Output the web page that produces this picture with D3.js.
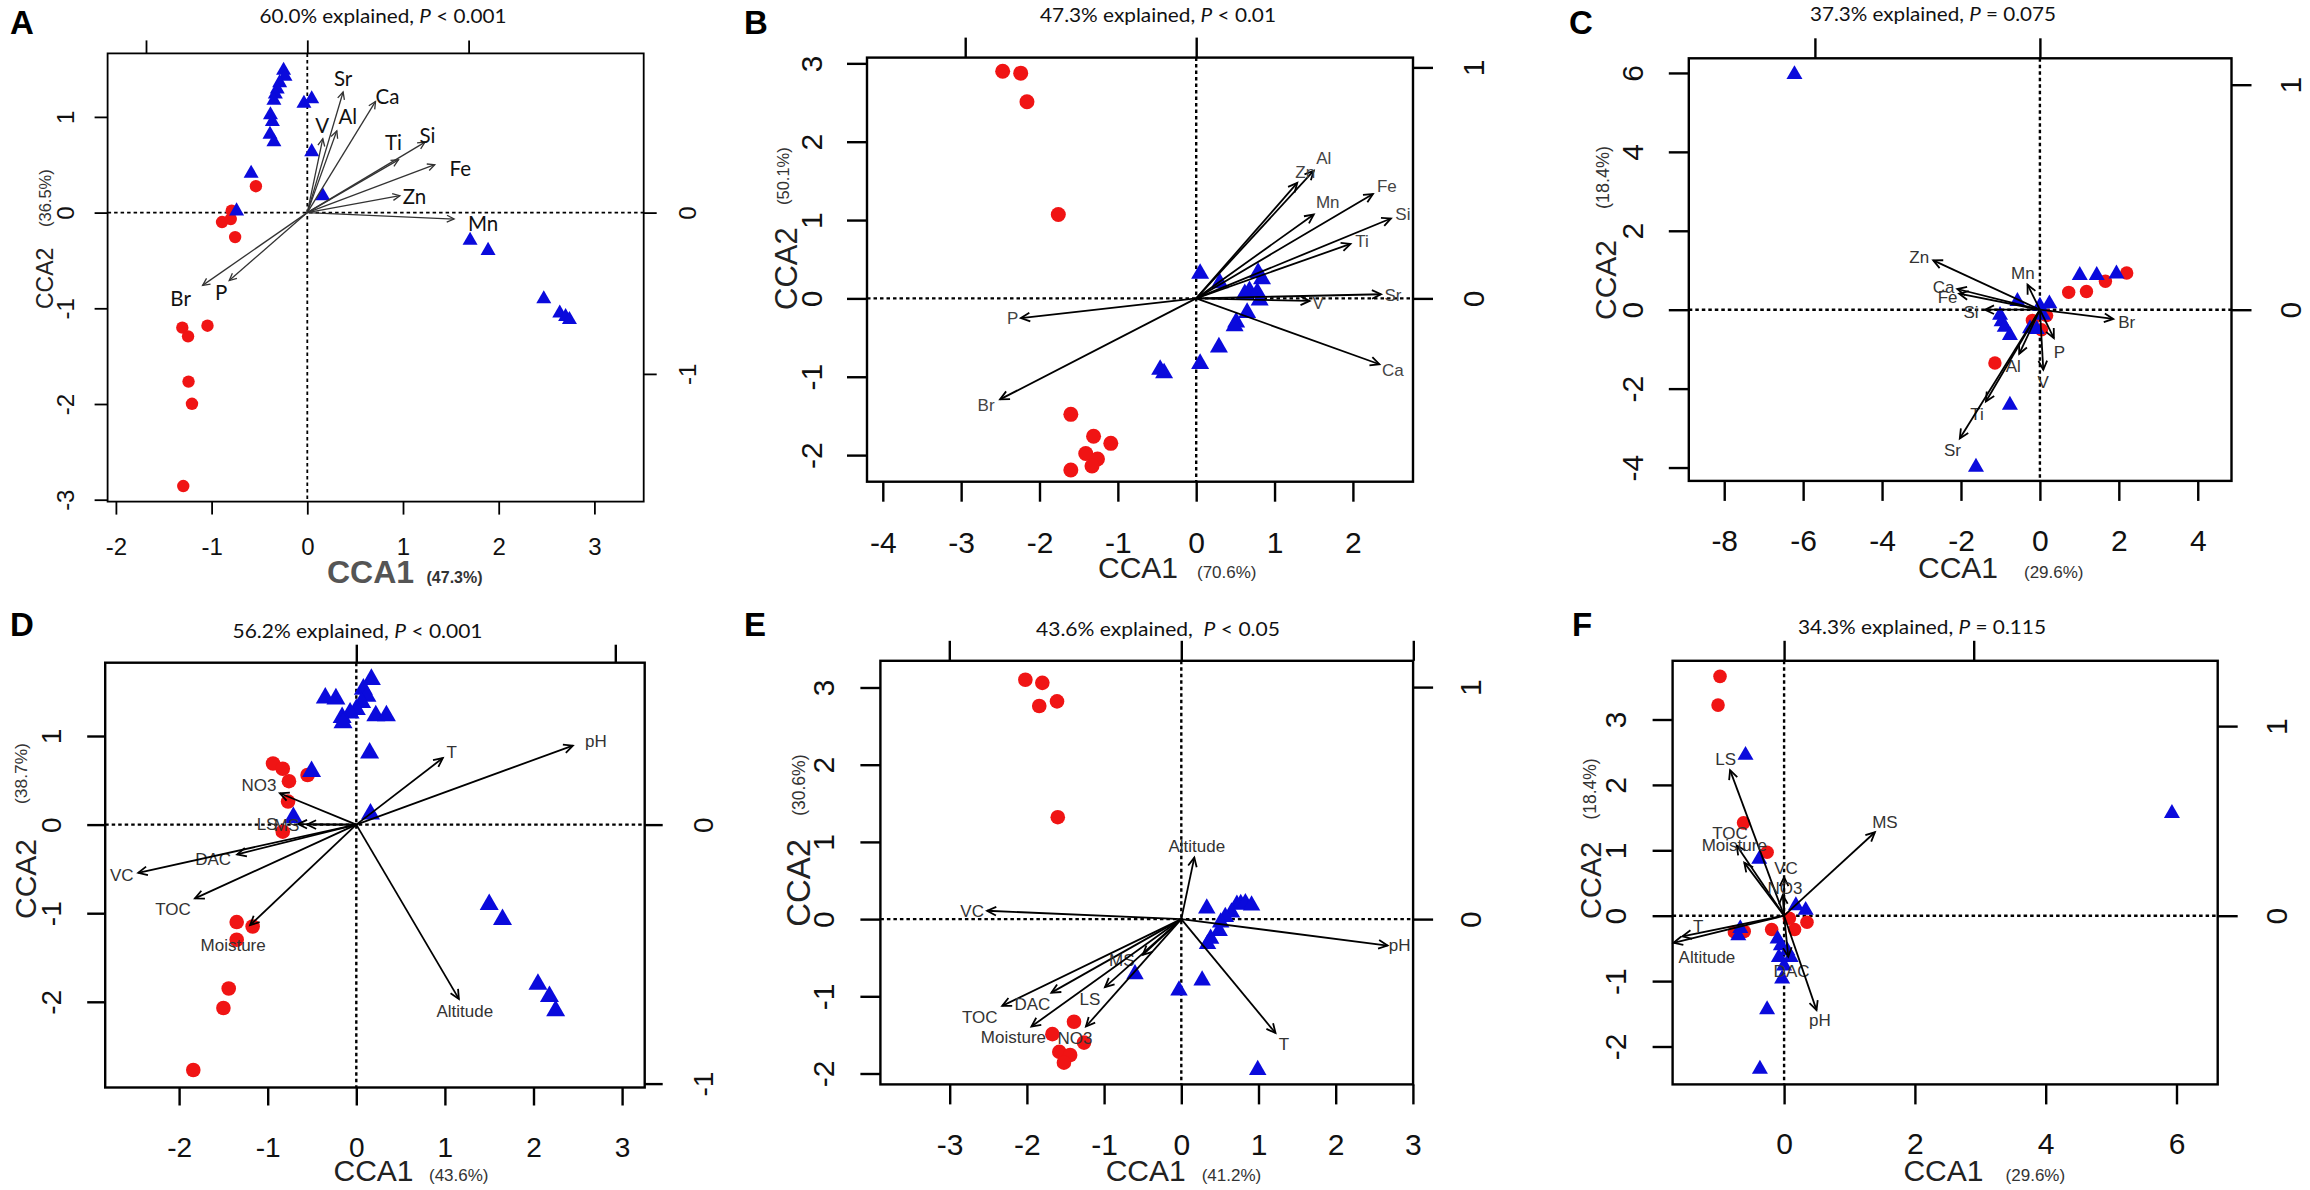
<!DOCTYPE html>
<html>
<head>
<meta charset="utf-8">
<script src="https://cdn.jsdelivr.net/npm/d3@7"></script>
<style>
  body { margin: 0; background: #fff; }
  svg { display: block; }
</style>
</head>
<body>
<svg id="fig" width="2310" height="1190"></svg>
<script>
// ---------- data ----------
const panelLetters = ["A", "B", "C", "D", "E", "F"];
const titles = [
  ["60.0% explained, ", "P", " < 0.001"],
  ["47.3% explained, ", "P", " < 0.01"],
  ["37.3% explained, ", "P", " = 0.075"],
  ["56.2% explained, ", "P", " < 0.001"],
  ["43.6% explained,  ", "P", " < 0.05"],
  ["34.3% explained, ", "P", " = 0.115"]
];
const xPct = ["(47.3%)", "(70.6%)", "(29.6%)", "(43.6%)", "(41.2%)", "(29.6%)"];
const yPct = ["(36.5%)", "(50.1%)", "(18.4%)", "(38.7%)", "(30.6%)", "(18.4%)"];

const xTicks = [[-2, -1, 0, 1, 2, 3], [-4, -3, -2, -1, 0, 1, 2], [-8, -6, -4, -2, 0, 2, 4],
                [-2, -1, 0, 1, 2, 3], [-3, -2, -1, 0, 1, 2, 3], [0, 2, 4, 6]];
const yTicks = [[-3, -2, -1, 0, 1], [-2, -1, 0, 1, 2, 3], [-4, -2, 0, 2, 4, 6],
                [-2, -1, 0, 1], [-2, -1, 0, 1, 2, 3], [-2, -1, 0, 1, 2, 3]];
const topTicks = [[-1, 0, 1], [-1, 0], [-1, 0], [0, 1], [-1, 0, 1], [0, 1]];
const rightTicks = [[-1, 0], [0, 1], [0, 1], [-1, 0], [0, 1], [0, 1]];

// site scores (CCA1, CCA2)
const blueA = [[-0.248, 1.509], [-0.233, 1.446], [-0.289, 1.379], [-0.314, 1.312], [-0.334, 1.261],
  [-0.349, 1.194], [-0.385, 1.044], [-0.365, 0.973], [-0.390, 0.839], [-0.349, 0.761], [-0.035, 1.163],
  [0.046, 1.210], [0.046, 0.658], [0.162, 0.197], [-0.587, 0.433], [-0.739, 0.039], [1.701, -0.268],
  [1.889, -0.374], [2.471, -0.879], [2.638, -1.029], [2.699, -1.064], [2.739, -1.096]];
const redA = [[-0.537, 0.276], [-0.790, 0.020], [-0.891, -0.099], [-0.800, -0.067], [-0.754, -0.256],
  [-1.306, -1.202], [-1.246, -1.293], [-1.043, -1.182], [-1.241, -1.766], [-1.205, -1.998], [-1.296, -2.857]];

const blueB = [[0.05, 0.35], [0.30, 0.23], [0.79, 0.36], [0.84, 0.28], [0.68, 0.13], [0.78, 0.11],
  [0.62, 0.09], [0.81, 0.01], [0.65, -0.15], [0.51, -0.27], [0.49, -0.32], [0.29, -0.59], [0.05, -0.80],
  [-0.46, -0.875], [-0.41, -0.92]];
const redB = [[-2.47, 2.90], [-2.24, 2.875], [-2.16, 2.51], [-1.76, 1.07], [-1.60, -1.48], [-1.31, -1.76],
  [-1.09, -1.85], [-1.41, -1.98], [-1.26, -2.05], [-1.33, -2.14], [-1.60, -2.19]];

const blueC = [[-6.22, 6.02], [-1.62, -3.93], [-0.76, -2.36], [1.01, 0.93], [1.44, 0.93], [1.94, 0.97],
  [-0.57, 0.27], [-1.01, -0.08], [-0.97, -0.24], [-0.89, -0.38], [-0.76, -0.59], [0, 0.15], [0.24, 0.21],
  [-0.25, -0.42], [-0.08, -0.44], [0.08, -0.08]];
const redC = [[2.2, 0.93], [1.66, 0.72], [1.18, 0.46], [0.73, 0.44], [-1.14, -1.35], [-0.19, -0.27],
  [0.04, -0.51], [0.17, -0.15]];

const blueD = [[0.17, 1.67], [-0.35, 1.46], [-0.23, 1.45], [0.08, 1.56], [0.12, 1.48], [0.06, 1.41],
  [0, 1.33], [-0.07, 1.29], [-0.16, 1.24], [-0.15, 1.18], [0.22, 1.26], [0.34, 1.26], [0.15, 0.84],
  [-0.505, 0.63], [-0.71, 0.11], [0.16, 0.15], [1.50, -0.87], [1.65, -1.04], [2.05, -1.77], [2.18, -1.91],
  [2.25, -2.07]];
const redD = [[-0.94, 0.69], [-0.83, 0.63], [-0.76, 0.49], [-0.55, 0.56], [-0.77, 0.26], [-0.83, -0.08],
  [-1.35, -1.10], [-1.17, -1.15], [-1.35, -1.30], [-1.44, -1.85], [-1.50, -2.07], [-1.84, -2.77]];

const blueE = [[0.33, 0.17], [0.72, 0.22], [0.77, 0.23], [0.83, 0.24], [0.91, 0.21], [0.65, 0.12],
  [0.57, 0.06], [0.51, -0.01], [0.49, -0.12], [0.38, -0.22], [0.34, -0.29], [-0.60, -0.68], [0.27, -0.76],
  [-0.03, -0.89], [0.99, -1.92]];
const redE = [[-2.02, 3.10], [-1.80, 3.06], [-1.61, 2.82], [-1.84, 2.76], [-1.60, 1.32], [-1.39, -1.33],
  [-1.67, -1.49], [-1.26, -1.60], [-1.58, -1.72], [-1.44, -1.76], [-1.52, -1.86]];

const blueF = [[-0.59, 2.49], [-0.38, 0.90], [5.93, 1.60], [0.18, 0.19], [0.33, 0.12], [-0.67, -0.16],
  [-0.70, -0.27], [-0.10, -0.32], [-0.05, -0.42], [0.05, -0.50], [-0.08, -0.60], [0.10, -0.60], [0, -0.73],
  [-0.03, -0.93], [-0.26, -1.40], [-0.37, -2.31]];
const redF = [[-0.98, 3.66], [-1.01, 3.22], [-0.62, 1.42], [-0.26, 0.97], [-0.76, -0.25], [-0.61, -0.24],
  [-0.19, -0.21], [0.16, -0.21], [0.35, -0.10], [0.08, -0.04]];

// biplot scores of the environmental variables
const arrowsA = [["Sr", 0.222, 0.748], ["Ca", 0.423, 0.689], ["Al", 0.183, 0.507], ["V", 0.096, 0.458],
  ["Ti", 0.565, 0.327], ["Si", 0.730, 0.437], ["Fe", 0.790, 0.297], ["Zn", 0.574, 0.105],
  ["Mn", 0.910, -0.040], ["Br", -0.649, -0.451], ["P", -0.484, -0.421]];
const arrowsB = [["Al", 0.509, 0.553], ["Zn", 0.4375, 0.50], ["Fe", 0.765, 0.452], ["Mn", 0.509, 0.363],
  ["Si", 0.843, 0.346], ["Ti", 0.668, 0.236], ["Sr", 0.80, 0.018], ["V", 0.491, -0.011],
  ["Ca", 0.793, -0.285], ["P", -0.759, -0.085], ["Br", -0.849, -0.437]];
const arrowsC = [["Zn", -0.474, 0.219], ["Mn", -0.055, 0.111], ["Ca", -0.367, 0.092], ["Fe", -0.359, 0.071],
  ["Si", -0.244, 0.0], ["Br", 0.326, -0.041], ["P", 0.062, -0.126], ["V", 0.015, -0.267],
  ["Al", -0.092, -0.196], ["Ti", -0.24, -0.408], ["Sr", -0.356, -0.572]];
const arrowsD = [["pH", 0.836, 0.305], ["T", 0.334, 0.257], ["NO3", -0.295, 0.121], ["LS", -0.225, 0.002],
  ["MS", -0.19, 0.0], ["DAC", -0.46, -0.115], ["VC", -0.842, -0.186], ["TOC", -0.623, -0.285],
  ["Moisture", -0.41, -0.388], ["Altitude", 0.396, -0.673]];
const arrowsE = [["Altitude", 0.056, 0.265], ["VC", -0.837, 0.036], ["pH", 0.889, -0.114], ["T", 0.406, -0.491],
  ["TOC", -0.772, -0.374], ["DAC", -0.560, -0.317], ["MS", -0.166, -0.154], ["LS", -0.329, -0.293],
  ["Moisture", -0.646, -0.463], ["NO3", -0.411, -0.463]];
const arrowsF = [["LS", -0.285, 0.768], ["TOC", -0.25, 0.37], ["Moisture", -0.21, 0.28], ["VC", 0.0, 0.203],
  ["NO3", -0.007, 0.109], ["MS", 0.479, 0.44], ["T", -0.536, -0.109], ["Altitude", -0.583, -0.143],
  ["DAC", 0.022, -0.216], ["pH", 0.171, -0.498]];

// ---------- layout (pixels) ----------
const layout = [
  { l: 107.6, r: 643.7, t: 53.4, b: 501.6, ox: 307.3, oy: 212.6, unit: 95.7, bunit: 161.3,
    letter: [10, 34], title: [383, 23, 247], cca1: [327, 583], pct1: [426.5, 583], cca2: [53, 309], pct2: [51, 227],
    tickFont: 24, bOff: 53.4, lOff: 34, rOff: 52, tlen: 13, c1Font: 32, c2Font: 23, p2Font: 16.5, boldX: true,
    rad: 6.2, tri: 15, lw: 1.3, lab: 20.5, labFont: "Lato, 'Open Sans', sans-serif", labFill: "#111", arrowCol: "#333",
    boxW: 1.8, dashW: 1.8,
    nudge: { Sr: [0, -13], Ca: [12, -4.5], Al: [11, -13.5], V: [-0.5, -12.7], Ti: [-5, -17], Si: [2.4, -6],
             Fe: [25.6, 4.5], Zn: [14.5, 0.8], Mn: [29, 4.8], Br: [-22, 13], P: [-8, 12.4] } },
  { l: 867, r: 1413, t: 57.6, b: 481.7, ox: 1196.2, oy: 298.4, unit: 78.35, bunit: 231,
    letter: [744, 34], title: [1158, 21.5, 236], cca1: [1098, 578], pct1: [1197, 578], cca2: [797, 310], pct2: [789, 205],
    tickFont: 30, bOff: 71, lOff: 45, rOff: 71, tlen: 20, c1Font: 30, c2Font: 31, p2Font: 16.5, boldX: false,
    rad: 7.5, tri: 18, lw: 1.8, lab: 17, labFont: "'Liberation Sans', Arial, sans-serif", labFill: "#444", arrowCol: "#000",
    boxW: 2.4, dashW: 2.4,
    nudge: { Al: [10, -12.5], Zn: [8, -11], Fe: [14, -7.6], Mn: [14, -12], Si: [12, -4], Ti: [11.5, -3],
             Sr: [12, 1], V: [8.5, 2], Ca: [13.4, 6.2], P: [-8.3, 0], Br: [-14, 6] } },
  { l: 1688.8, r: 2231.5, t: 58.3, b: 480.9, ox: 2039.9, oy: 309.7, unit: 39.46, bunit: 225,
    letter: [1569, 34], title: [1933, 20.5, 246], cca1: [1918, 578], pct1: [2024, 578], cca2: [1616, 320], pct2: [1609, 209],
    tickFont: 30, bOff: 70, lOff: 46, rOff: 69.5, tlen: 20, c1Font: 30, c2Font: 30, p2Font: 18, boldX: false,
    rad: 6.7, tri: 16, lw: 1.8, lab: 17, labFont: "'Liberation Sans', Arial, sans-serif", labFill: "#333", arrowCol: "#000",
    boxW: 2.4, dashW: 2.4,
    nudge: { Zn: [-14, -3.4], Mn: [-4.7, -12], Ca: [-13.7, -2.2], Fe: [-11.5, 3.6], Si: [-14, 2.7], Br: [13.5, 3],
             P: [5.6, 13.7], V: [0, 12], Al: [-6, 12.7], Ti: [-9, 12.4], Sr: [-7.4, 11.3] } },
  { l: 105.2, r: 644.7, t: 662.7, b: 1087.5, ox: 356.3, oy: 824.6, unit: 88.6, bunit: 259,
    letter: [10, 636], title: [357.5, 637.5, 250], cca1: [333.5, 1181], pct1: [429, 1181], cca2: [36.4, 919], pct2: [27, 804],
    tickFont: 28, bOff: 69, lOff: 44.6, rOff: 68, tlen: 18, c1Font: 30, c2Font: 30, p2Font: 17.4, boldX: false,
    rad: 7.3, tri: 19, lw: 1.8, lab: 17, labFont: "'Liberation Sans', Arial, sans-serif", labFill: "#333", arrowCol: "#000",
    boxW: 2.4, dashW: 2.4,
    nudge: { pH: [23, -4.7], T: [9, -6], NO3: [-21, -8.5], LS: [-31, 0], MS: [-20.5, 0], DAC: [-24, 5],
             VC: [-16.5, 2.3], TOC: [-22, 11], Moisture: [-17, 20], Altitude: [6, 11.7] } },
  { l: 880.4, r: 1413.1, t: 660.8, b: 1084.4, ox: 1181.3, oy: 919.1, unit: 77.2, bunit: 232,
    letter: [744, 636], title: [1158, 636, 244], cca1: [1105.7, 1181], pct1: [1201.7, 1181], cca2: [810, 926.8], pct2: [805, 815.8],
    tickFont: 30, bOff: 71, lOff: 46, rOff: 68, tlen: 20, c1Font: 30, c2Font: 33, p2Font: 17.5, boldX: false,
    rad: 7.3, tri: 17.5, lw: 1.8, lab: 17, labFont: "'Liberation Sans', Arial, sans-serif", labFill: "#333", arrowCol: "#000",
    boxW: 2.4, dashW: 2.4,
    nudge: { Altitude: [2.5, -12], VC: [-15, 0], pH: [12, -0.8], T: [8.5, 11.5], TOC: [-22.4, 10.7], DAC: [-19, 11.5],
             MS: [-21, 5], LS: [-15, 11.5], Moisture: [-18, 10.3], NO3: [-11, 11.5] } },
  { l: 1672.6, r: 2217.7, t: 660.8, b: 1084.4, ox: 1784.1, oy: 915.7, unit: 65.4, bunit: 189.6,
    letter: [1572, 636], title: [1922, 634, 248], cca1: [1903.4, 1181], pct1: [2005.6, 1181], cca2: [1601, 919], pct2: [1596, 819.6],
    tickFont: 30, bOff: 70, lOff: 46.6, rOff: 69, tlen: 20, c1Font: 30, c2Font: 29, p2Font: 17.5, boldX: false,
    rad: 6.8, tri: 16, lw: 1.8, lab: 17, labFont: "'Liberation Sans', Arial, sans-serif", labFill: "#333", arrowCol: "#000",
    boxW: 2.4, dashW: 2.4,
    nudge: { LS: [-4.4, -11.5], TOC: [-6.7, -12.7], Moisture: [-10, -18], VC: [2, -9], NO3: [2.3, -6.7], MS: [10, -10.6],
             T: [15.7, -10.7], Altitude: [33.4, 13.8], DAC: [3.3, 14], pH: [3.4, 10.3] } }
];

const blues = [blueA, blueB, blueC, blueD, blueE, blueF];
const reds = [redA, redB, redC, redD, redE, redF];
const arrows = [arrowsA, arrowsB, arrowsC, arrowsD, arrowsE, arrowsF];

const RED = "#f01414", BLUE = "#0a0adc";
const ARIAL = "'Liberation Sans', Arial, Helvetica, sans-serif";
const TITLEF = "Lato, 'Open Sans', sans-serif";
const fmt = d => String(d);

// filled triangle symbol, "size" = side length squared
const triangle = {
  draw(ctx, size) {
    const w = Math.sqrt(size), h = w * 0.87;
    ctx.moveTo(0, -h / 2);
    ctx.lineTo(w / 2, h / 2);
    ctx.lineTo(-w / 2, h / 2);
    ctx.closePath();
  }
};

const svg = d3.select("#fig");

layout.forEach((p, i) => {
  const g = svg.append("g");
  const ratio = p.bunit / p.unit;
  const xlim = [(p.l - p.ox) / p.unit, (p.r - p.ox) / p.unit];
  const ylim = [(p.oy - p.t) / p.unit, (p.oy - p.b) / p.unit];
  const x = d3.scaleLinear().domain(xlim).range([p.l, p.r]);
  const y = d3.scaleLinear().domain(ylim).range([p.t, p.b]);
  const bx = d3.scaleLinear().domain(xlim.map(v => v / ratio)).range([p.l, p.r]);
  const by = d3.scaleLinear().domain(ylim.map(v => v / ratio)).range([p.t, p.b]);

  // zero lines
  g.append("line").attr("x1", p.l).attr("x2", p.r).attr("y1", y(0)).attr("y2", y(0))
    .attr("stroke", "#000").attr("stroke-width", p.dashW).attr("stroke-dasharray", "3.5,3");
  g.append("line").attr("x1", x(0)).attr("x2", x(0)).attr("y1", p.t).attr("y2", p.b)
    .attr("stroke", "#000").attr("stroke-width", p.dashW).attr("stroke-dasharray", "3.5,3");

  // axes
  const styleAxis = sel => {
    sel.select(".domain").remove();
    sel.selectAll(".tick line").attr("stroke", "#000").attr("stroke-width", p.boxW);
    sel.selectAll("text").attr("font-family", ARIAL).attr("font-size", p.tickFont).attr("fill", "#111");
  };
  g.append("g").attr("transform", `translate(0,${p.b})`)
    .call(d3.axisBottom(x).tickValues(xTicks[i]).tickSize(p.tlen).tickFormat(fmt))
    .call(styleAxis)
    .call(s => s.selectAll("text").attr("y", p.bOff).attr("dy", null));
  g.append("g").attr("transform", `translate(${p.l},0)`)
    .call(d3.axisLeft(y).tickValues(yTicks[i]).tickSize(p.tlen).tickFormat(fmt))
    .call(styleAxis)
    .call(s => s.selectAll("text").attr("transform", "rotate(-90)").attr("x", 0)
      .attr("y", -p.lOff).attr("dy", null).attr("text-anchor", "middle"));
  g.append("g").attr("transform", `translate(${p.r},0)`)
    .call(d3.axisRight(by).tickValues(rightTicks[i]).tickSize(p.tlen).tickFormat(fmt))
    .call(styleAxis)
    .call(s => s.selectAll("text").attr("transform", "rotate(-90)").attr("x", 0)
      .attr("y", p.rOff).attr("dy", null).attr("text-anchor", "middle"));
  g.append("g").attr("transform", `translate(0,${p.t})`)
    .call(d3.axisTop(bx).tickValues(topTicks[i]).tickSize(p.tlen).tickFormat(""))
    .call(styleAxis);

  // box
  g.append("rect").attr("x", p.l).attr("y", p.t).attr("width", p.r - p.l).attr("height", p.b - p.t)
    .attr("fill", "none").attr("stroke", "#000").attr("stroke-width", p.boxW);

  // sites
  g.selectAll(".red").data(reds[i]).join("circle").attr("class", "red")
    .attr("cx", d => x(d[0])).attr("cy", d => y(d[1])).attr("r", p.rad).attr("fill", RED);
  g.selectAll(".blue").data(blues[i]).join("path").attr("class", "blue")
    .attr("transform", d => `translate(${x(d[0])},${y(d[1])})`)
    .attr("d", d3.symbol().type(triangle).size(p.tri * p.tri)).attr("fill", BLUE);

  // environmental arrows
  const ah = i === 0 ? 8 : 10, ang = Math.PI / 7;
  const arr = g.selectAll(".arrow").data(arrows[i]).join("g").attr("class", "arrow");
  arr.append("line")
    .attr("x1", bx(0)).attr("y1", by(0)).attr("x2", d => bx(d[1])).attr("y2", d => by(d[2]))
    .attr("stroke", p.arrowCol).attr("stroke-width", p.lw);
  arr.append("path")
    .attr("d", d => {
      const x2 = bx(d[1]), y2 = by(d[2]);
      const a = Math.atan2(y2 - by(0), x2 - bx(0));
      return `M${x2 - ah * Math.cos(a - ang)},${y2 - ah * Math.sin(a - ang)}L${x2},${y2}` +
             `L${x2 - ah * Math.cos(a + ang)},${y2 - ah * Math.sin(a + ang)}`;
    })
    .attr("fill", "none").attr("stroke", p.arrowCol).attr("stroke-width", p.lw);
  arr.append("text")
    .attr("x", d => bx(d[1]) + p.nudge[d[0]][0]).attr("y", d => by(d[2]) + p.nudge[d[0]][1])
    .attr("dy", "0.35em").attr("text-anchor", "middle")
    .attr("font-family", p.labFont).attr("font-size", p.lab).attr("fill", p.labFill)
    .text(d => d[0]);

  // panel letter and title
  g.append("text").attr("x", p.letter[0]).attr("y", p.letter[1])
    .attr("font-family", ARIAL).attr("font-weight", "bold").attr("font-size", 33).text(panelLetters[i]);
  const tt = g.append("text").attr("x", p.title[0]).attr("y", p.title[1]).attr("text-anchor", "middle")
    .attr("font-family", TITLEF).attr("font-size", 20).attr("fill", "#111")
    .attr("textLength", p.title[2]).attr("lengthAdjust", "spacingAndGlyphs")
    .style("white-space", "pre");
  tt.append("tspan").text(titles[i][0]);
  tt.append("tspan").attr("font-style", "italic").text(titles[i][1]);
  tt.append("tspan").text(titles[i][2]);

  // axis titles
  g.append("text").attr("x", p.cca1[0]).attr("y", p.cca1[1])
    .attr("font-family", ARIAL).attr("font-size", p.c1Font)
    .attr("font-weight", p.boldX ? "bold" : "normal").attr("fill", p.boldX ? "#555" : "#222").text("CCA1");
  g.append("text").attr("x", p.pct1[0]).attr("y", p.pct1[1])
    .attr("font-family", ARIAL).attr("font-size", p.boldX ? 16 : 17)
    .attr("font-weight", p.boldX ? "bold" : "normal").attr("fill", "#333").text(xPct[i]);
  g.append("text").attr("transform", `translate(${p.cca2[0]},${p.cca2[1]}) rotate(-90)`)
    .attr("font-family", ARIAL).attr("font-size", p.c2Font).attr("fill", "#222").text("CCA2");
  g.append("text").attr("transform", `translate(${p.pct2[0]},${p.pct2[1]}) rotate(-90)`)
    .attr("font-family", ARIAL).attr("font-size", p.p2Font).attr("fill", "#333").text(yPct[i]);
});
</script>
</body>
</html>
